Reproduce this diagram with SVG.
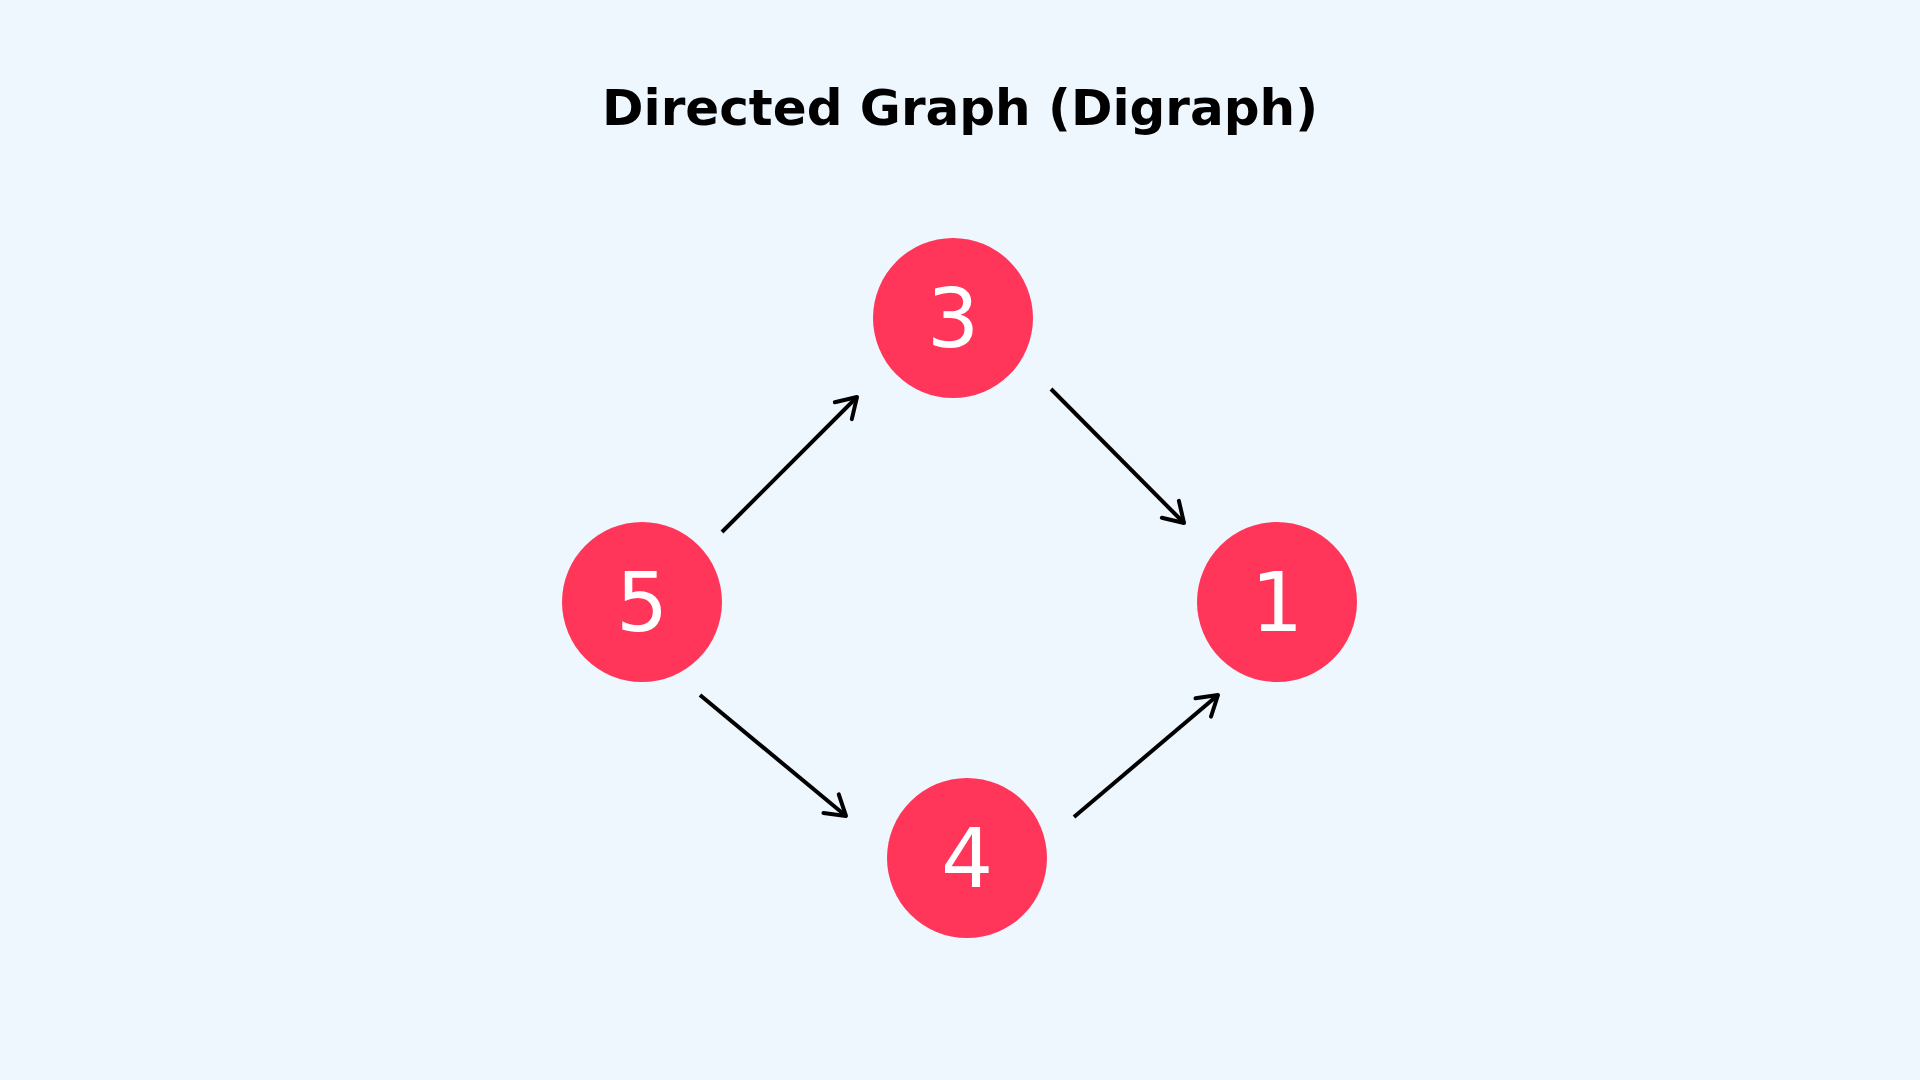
<svg xmlns="http://www.w3.org/2000/svg" width="1920" height="1080" viewBox="0 0 1920 1080">
<style>
.n{fill:#FF3659}
.t{fill:#fff;font-family:"DejaVu Sans",sans-serif;font-size:82px;text-anchor:middle;dominant-baseline:central}
.e{stroke:#000;stroke-width:4;fill:none;marker-end:url(#a)}
</style>
<defs>
<marker id="a" viewBox="0 0 12 12" refX="11" refY="6" markerWidth="8" markerHeight="8" markerUnits="userSpaceOnUse" orient="auto" overflow="visible">
<path d="M-18,-12 L11,6 L-18,24" transform="scale(1)" fill="none" stroke="#000" stroke-width="4" stroke-linecap="round" stroke-linejoin="round" vector-effect="non-scaling-stroke"/>
</marker>
</defs>
<rect width="1920" height="1080" fill="#EEF6FE"/>
<text x="960" y="108" font-family="DejaVu Sans,sans-serif" font-weight="bold" font-size="50" text-anchor="middle" dominant-baseline="central" fill="#000">Directed Graph (Digraph)</text>
<g id="edges">
<line class="e" x1="722" y1="532" x2="857" y2="397"/>
<line class="e" x1="1051" y1="389" x2="1184" y2="523"/>
<line class="e" x1="700" y1="695" x2="846" y2="816"/>
<line class="e" x1="1074" y1="817" x2="1218" y2="695"/>
</g>
<g id="n3"><circle class="n" cx="953" cy="318" r="80"/><text class="t" x="953" y="318">3</text></g>
<g id="n5"><circle class="n" cx="642" cy="602" r="80"/><text class="t" x="642" y="602">5</text></g>
<g id="n1"><circle class="n" cx="1277" cy="602" r="80"/><text class="t" x="1277" y="602">1</text></g>
<g id="n4"><circle class="n" cx="967" cy="858" r="80"/><text class="t" x="967" y="858">4</text></g>
</svg>
